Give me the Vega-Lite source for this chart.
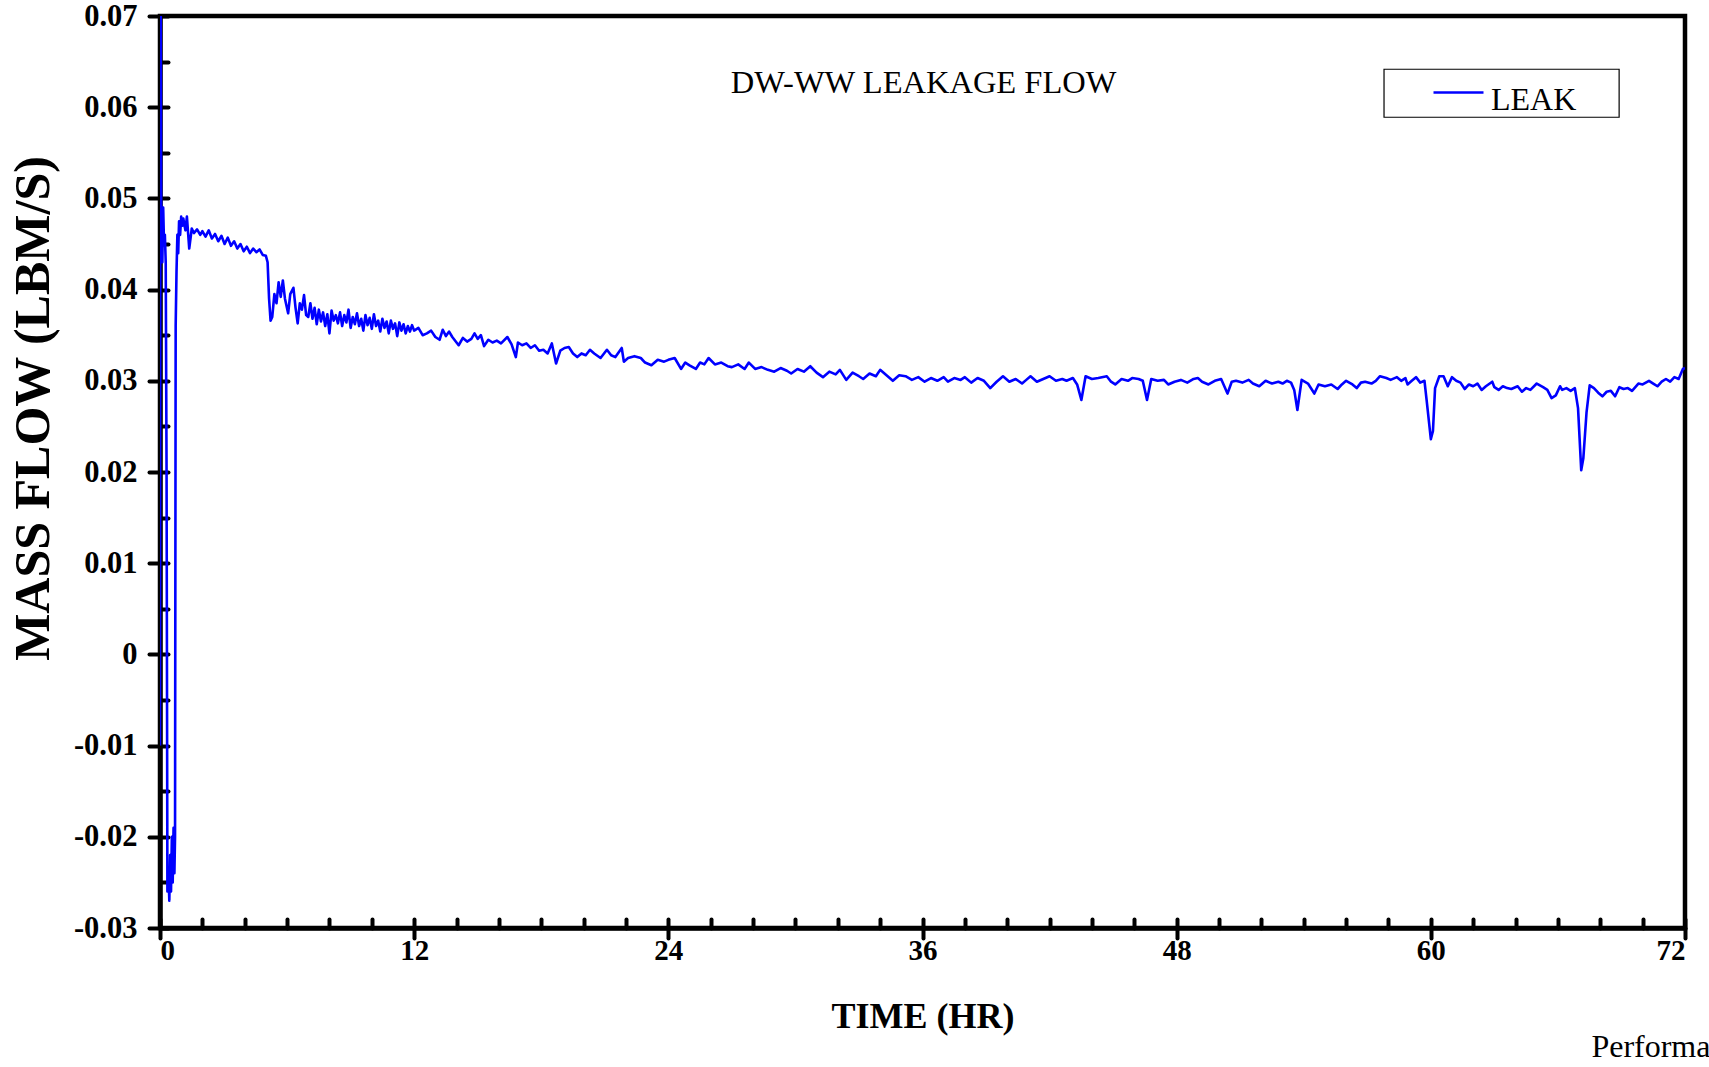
{
  "$schema": "https://vega.github.io/schema/vega-lite/v6.json",
  "width": 1525,
  "height": 912,
  "autosize": "none",
  "padding": {"left": 160, "top": 16, "right": 24, "bottom": 139},
  "background": "white",
  "config": {
    "view": {"stroke": "black", "strokeWidth": 4.5},
    "font": "Liberation Serif"
  },
  "data": {"values": [
    {"t":0,"v":-0.010},{"t":0.02,"v":0.085},{"t":0.06,"v":0.044},{"t":0.09,"v":0.047},{"t":0.11,"v":0.043},{"t":0.15,"v":0.049},{"t":0.19,"v":0.045},{"t":0.23,"v":0.046},{"t":0.27,"v":0.043},{"t":0.31,"v":0.020},{"t":0.35,"v":-0.026},{"t":0.40,"v":-0.024},{"t":0.44,"v":-0.027},{"t":0.48,"v":-0.022},{"t":0.52,"v":-0.026},{"t":0.56,"v":-0.020},{"t":0.60,"v":-0.025},{"t":0.64,"v":-0.019},{"t":0.68,"v":-0.024},{"t":0.71,"v":-0.020},{"t":0.74,"v":0.036},{"t":0.78,"v":0.042},{"t":0.82,"v":0.046},{"t":0.86,"v":0.044},{"t":0.90,"v":0.0475},{"t":0.95,"v":0.046},{"t":1.0,"v":0.048},{"t":1.05,"v":0.047},{"t":1.1,"v":0.0478},{"t":1.2,"v":0.0465},{"t":1.27,"v":0.048},{"t":1.38,"v":0.0445},{"t":1.5,"v":0.0467},
    {"t":1.6,"v":0.0462},{"t":1.75,"v":0.0466},{"t":1.9,"v":0.0460},{"t":2.0,"v":0.0464},{"t":2.15,"v":0.0458},{"t":2.3,"v":0.0465},{"t":2.45,"v":0.0456},{"t":2.6,"v":0.0461},{"t":2.75,"v":0.0453},{"t":2.9,"v":0.0459},{"t":3.05,"v":0.0450},{"t":3.2,"v":0.0457},{"t":3.35,"v":0.0448},{"t":3.5,"v":0.0453},{"t":3.65,"v":0.0445},{"t":3.8,"v":0.0450},{"t":3.95,"v":0.0442},{"t":4.1,"v":0.0447},{"t":4.25,"v":0.0440},{"t":4.4,"v":0.0445},{"t":4.55,"v":0.0441},{"t":4.7,"v":0.0444},{"t":4.85,"v":0.0438},{"t":5.0,"v":0.0437},{"t":5.08,"v":0.0430},{"t":5.15,"v":0.0390},{"t":5.22,"v":0.0366},{"t":5.3,"v":0.0370},{"t":5.4,"v":0.0395},{"t":5.5,"v":0.0385},{"t":5.6,"v":0.0408},{"t":5.7,"v":0.0392},{"t":5.8,"v":0.0410},{"t":5.9,"v":0.0390},{"t":6.05,"v":0.0374},{"t":6.15,"v":0.0395},{"t":6.3,"v":0.0402},{"t":6.4,"v":0.0380},{"t":6.5,"v":0.0363},{"t":6.6,"v":0.0385},{"t":6.7,"v":0.0378},{"t":6.8,"v":0.0394},{"t":6.9,"v":0.0372},{"t":7.0,"v":0.0370},{"t":7.1,"v":0.0385},
    {"t":7.2,"v":0.0368},{"t":7.3,"v":0.0380},{"t":7.4,"v":0.0362},{"t":7.5,"v":0.0378},{"t":7.6,"v":0.0365},{"t":7.7,"v":0.0375},{"t":7.8,"v":0.0360},{"t":7.9,"v":0.0373},{"t":8.0,"v":0.0352},{"t":8.1,"v":0.0377},{"t":8.2,"v":0.0366},{"t":8.3,"v":0.0372},{"t":8.4,"v":0.0363},{"t":8.5,"v":0.0375},{"t":8.6,"v":0.0360},{"t":8.7,"v":0.0372},{"t":8.8,"v":0.0364},{"t":8.9,"v":0.0378},{"t":9.0,"v":0.0358},{"t":9.1,"v":0.0370},{"t":9.2,"v":0.0362},{"t":9.3,"v":0.0374},{"t":9.4,"v":0.0360},{"t":9.5,"v":0.0368},{"t":9.6,"v":0.0355},{"t":9.7,"v":0.0372},{"t":9.8,"v":0.0361},{"t":9.9,"v":0.0369},{"t":10.0,"v":0.0357},{"t":10.1,"v":0.0373},{"t":10.2,"v":0.0360},{"t":10.3,"v":0.0366},{"t":10.4,"v":0.0354},{"t":10.5,"v":0.0368},{"t":10.6,"v":0.0358},{"t":10.7,"v":0.0365},{"t":10.8,"v":0.0352},{"t":10.9,"v":0.0366},{"t":11.0,"v":0.0357},{"t":11.1,"v":0.0363},{"t":11.2,"v":0.0349},{"t":11.3,"v":0.0364},{"t":11.4,"v":0.0355},{"t":11.5,"v":0.0362},{"t":11.6,"v":0.0352},{"t":11.7,"v":0.0360},{"t":11.8,"v":0.0354},{"t":11.9,"v":0.0361},{"t":12.0,"v":0.0355},{"t":12.2,"v":0.0358},{"t":12.4,"v":0.0350},{"t":12.6,"v":0.0352},{"t":12.8,"v":0.0355},{"t":13.0,"v":0.0348},{"t":13.2,"v":0.0345},{"t":13.35,"v":0.0356},{"t":13.5,"v":0.0349},{"t":13.65,"v":0.0354},{"t":13.8,"v":0.0348},{"t":14.1,"v":0.0339},{"t":14.3,"v":0.0347},{"t":14.5,"v":0.0343},{"t":14.7,"v":0.0346},{"t":14.85,"v":0.0352},{"t":15.0,"v":0.0346},{"t":15.15,"v":0.0350},{"t":15.3,"v":0.0338},{"t":15.5,"v":0.0345},{"t":15.7,"v":0.0342},{"t":15.9,"v":0.0344},{"t":16.1,"v":0.0341},{"t":16.4,"v":0.0348},{"t":16.6,"v":0.0340},{"t":16.8,"v":0.0326},{"t":16.9,"v":0.0342},{"t":17.1,"v":0.0339},{"t":17.3,"v":0.0341},{"t":17.5,"v":0.0336},{"t":17.7,"v":0.0339},{"t":17.9,"v":0.0333},{"t":18.1,"v":0.0334},{"t":18.3,"v":0.0330},{"t":18.5,"v":0.0341},{"t":18.6,"v":0.0330},{"t":18.7,"v":0.0319},{"t":18.9,"v":0.0333},{"t":19.1,"v":0.0336},{"t":19.3,"v":0.0337},{"t":19.5,"v":0.0330},{"t":19.7,"v":0.0326},{"t":19.9,"v":0.0330},{"t":20.1,"v":0.0328},{"t":20.3,"v":0.0334},{"t":20.5,"v":0.0330},{"t":20.8,"v":0.0325},{"t":21.1,"v":0.0334},{"t":21.3,"v":0.0328},{"t":21.5,"v":0.0326},{"t":21.8,"v":0.0336},{"t":21.9,"v":0.0321},{"t":22.1,"v":0.0325},{"t":22.4,"v":0.0327},{"t":22.7,"v":0.0325},{"t":22.9,"v":0.0320},{"t":23.2,"v":0.0317},{"t":23.5,"v":0.0323},{"t":23.8,"v":0.0321},{"t":24.0,"v":0.0323},{"t":24.3,"v":0.0325},{"t":24.6,"v":0.0313},{"t":24.8,"v":0.0320},{"t":25.0,"v":0.0317},{"t":25.3,"v":0.0313},{"t":25.5,"v":0.0320},{"t":25.7,"v":0.0318},{"t":25.9,"v":0.0325},{"t":26.2,"v":0.0318},{"t":26.5,"v":0.0320},{"t":26.8,"v":0.0316},{"t":27.0,"v":0.0315},{"t":27.3,"v":0.0318},{"t":27.6,"v":0.0313},{"t":27.8,"v":0.0320},{"t":28.1,"v":0.0313},{"t":28.4,"v":0.0315},{"t":28.7,"v":0.0312},{"t":29.0,"v":0.0310},{"t":29.3,"v":0.0314},{"t":29.6,"v":0.0311},{"t":29.8,"v":0.0308},{"t":30.1,"v":0.0313},{"t":30.4,"v":0.0310},{"t":30.7,"v":0.0316},{"t":31.0,"v":0.0309},{"t":31.3,"v":0.0304},{"t":31.6,"v":0.0310},{"t":31.9,"v":0.0307},{"t":32.1,"v":0.0312},{"t":32.4,"v":0.0301},{"t":32.7,"v":0.0309},{"t":33.0,"v":0.0305},{"t":33.2,"v":0.0302},{"t":33.5,"v":0.0308},{"t":33.8,"v":0.0305},{"t":34.0,"v":0.0312},{"t":34.3,"v":0.0306},{"t":34.6,"v":0.0300},{"t":34.9,"v":0.0306},{"t":35.2,"v":0.0305},{"t":35.5,"v":0.0301},{"t":35.8,"v":0.0304},{"t":36.1,"v":0.0299},{"t":36.4,"v":0.0303},{"t":36.7,"v":0.0300},{"t":37.0,"v":0.0304},{"t":37.2,"v":0.0299},{"t":37.5,"v":0.0303},{"t":37.8,"v":0.0301},{"t":38.0,"v":0.0304},{"t":38.3,"v":0.0298},{"t":38.6,"v":0.0303},{"t":38.9,"v":0.0300},{"t":39.2,"v":0.0292},{"t":39.5,"v":0.0299},{"t":39.8,"v":0.0305},{"t":40.1,"v":0.0299},{"t":40.4,"v":0.0302},{"t":40.7,"v":0.0297},{"t":40.9,"v":0.0301},{"t":41.1,"v":0.0305},{"t":41.4,"v":0.0299},{"t":41.7,"v":0.0302},{"t":42.0,"v":0.0305},{"t":42.3,"v":0.0300},{"t":42.6,"v":0.0302},{"t":42.8,"v":0.0300},{"t":43.1,"v":0.0303},{"t":43.3,"v":0.0296},{"t":43.5,"v":0.0279},{"t":43.7,"v":0.0305},{"t":44.0,"v":0.0302},{"t":44.3,"v":0.0303},{"t":44.7,"v":0.0305},{"t":44.9,"v":0.0299},{"t":45.1,"v":0.0296},{"t":45.4,"v":0.0302},{"t":45.7,"v":0.0300},{"t":45.9,"v":0.0303},{"t":46.2,"v":0.0302},{"t":46.4,"v":0.0300},{"t":46.6,"v":0.0279},{"t":46.8,"v":0.0302},{"t":47.1,"v":0.0300},{"t":47.4,"v":0.0301},{"t":47.6,"v":0.0296},{"t":47.9,"v":0.0299},{"t":48.2,"v":0.0301},{"t":48.5,"v":0.0298},{"t":48.8,"v":0.0302},{"t":49.0,"v":0.0303},{"t":49.2,"v":0.0299},{"t":49.5,"v":0.0296},{"t":49.8,"v":0.0300},{"t":50.1,"v":0.0302},{"t":50.4,"v":0.0286},{"t":50.6,"v":0.0299},{"t":50.8,"v":0.0300},{"t":51.1,"v":0.0298},{"t":51.4,"v":0.0301},{"t":51.6,"v":0.0297},{"t":51.9,"v":0.0294},{"t":52.2,"v":0.0300},{"t":52.5,"v":0.0297},{"t":52.8,"v":0.0299},{"t":53.0,"v":0.0297},{"t":53.2,"v":0.0300},{"t":53.4,"v":0.0298},{"t":53.55,"v":0.0290},{"t":53.7,"v":0.0268},{"t":53.9,"v":0.0301},{"t":54.2,"v":0.0297},{"t":54.5,"v":0.0286},{"t":54.7,"v":0.0296},{"t":55.0,"v":0.0294},{"t":55.3,"v":0.0296},{"t":55.6,"v":0.0291},{"t":55.8,"v":0.0296},{"t":56.0,"v":0.0300},{"t":56.3,"v":0.0296},{"t":56.5,"v":0.0292},{"t":56.7,"v":0.0298},{"t":56.9,"v":0.0299},{"t":57.2,"v":0.0297},{"t":57.4,"v":0.0300},{"t":57.6,"v":0.0305},{"t":57.9,"v":0.0303},{"t":58.1,"v":0.0301},{"t":58.4,"v":0.0304},{"t":58.6,"v":0.0300},{"t":58.8,"v":0.0303},{"t":58.9,"v":0.0296},{"t":59.1,"v":0.0300},{"t":59.3,"v":0.0304},{"t":59.5,"v":0.0298},{"t":59.7,"v":0.0300},{"t":59.8,"v":0.0279},{"t":60.0,"v":0.0236},{"t":60.1,"v":0.0245},{"t":60.2,"v":0.0292},{"t":60.4,"v":0.0305},{"t":60.6,"v":0.0305},{"t":60.8,"v":0.0294},{"t":61.0,"v":0.0304},{"t":61.2,"v":0.0300},{"t":61.4,"v":0.0298},{"t":61.6,"v":0.0291},{"t":61.8,"v":0.0296},{"t":62.0,"v":0.0294},{"t":62.2,"v":0.0297},{"t":62.4,"v":0.0290},{"t":62.6,"v":0.0294},{"t":62.9,"v":0.0299},{"t":63.0,"v":0.0293},{"t":63.2,"v":0.0290},{"t":63.4,"v":0.0294},{"t":63.6,"v":0.0292},{"t":63.8,"v":0.0291},{"t":64.1,"v":0.0294},{"t":64.3,"v":0.0288},{"t":64.5,"v":0.0292},{"t":64.7,"v":0.0290},{"t":65.0,"v":0.0297},{"t":65.3,"v":0.0293},{"t":65.5,"v":0.0290},{"t":65.7,"v":0.0281},{"t":65.9,"v":0.0284},{"t":66.1,"v":0.0294},{"t":66.2,"v":0.0290},{"t":66.4,"v":0.0292},{"t":66.6,"v":0.0289},{"t":66.8,"v":0.0292},{"t":66.95,"v":0.0270},{"t":67.1,"v":0.0202},{"t":67.2,"v":0.0215},{"t":67.35,"v":0.0265},{"t":67.5,"v":0.0295},{"t":67.7,"v":0.0292},{"t":67.9,"v":0.0287},{"t":68.1,"v":0.0283},{"t":68.3,"v":0.0288},{"t":68.5,"v":0.0289},{"t":68.7,"v":0.0283},{"t":68.9,"v":0.0293},{"t":69.1,"v":0.0291},{"t":69.3,"v":0.0292},{"t":69.5,"v":0.0289},{"t":69.8,"v":0.0297},{"t":70.0,"v":0.0296},{"t":70.3,"v":0.0300},{"t":70.5,"v":0.0297},{"t":70.7,"v":0.0294},{"t":70.9,"v":0.0299},{"t":71.1,"v":0.0302},{"t":71.3,"v":0.0299},{"t":71.5,"v":0.0304},{"t":71.7,"v":0.0302},{"t":71.9,"v":0.0313},{"t":72.0,"v":0.0314}
  ]},
  "layer": [
    {
      "mark": {"type": "line", "opacity": 0, "strokeWidth": 1},
      "encoding": {
        "x": {"field": "t", "type": "quantitative",
          "scale": {"domain": [0, 72], "nice": false, "zero": false},
          "axis": {"orient": "bottom", "values": [0,2,4,6,8,10,12,14,16,18,20,22,24,26,28,30,32,34,36,38,40,42,44,46,48,50,52,54,56,58,60,62,64,66,68,70,72],
            "labels": false, "domain": false, "grid": false, "title": null, "tickColor": "black", "tickWidth": 4, "tickSize": -9, "tickCap": "round"}},
        "y": {"field": "v", "type": "quantitative",
          "scale": {"domain": [-0.03, 0.07], "nice": false, "zero": false},
          "axis": {"orient": "left", "values": [-0.03,-0.025,-0.02,-0.015,-0.01,-0.005,0,0.005,0.01,0.015,0.02,0.025,0.03,0.035,0.04,0.045,0.05,0.055,0.06,0.065,0.07],
            "labels": false, "domain": false, "grid": false, "title": null, "tickColor": "black", "tickWidth": 4, "tickSize": -8, "tickCap": "round"}}
      }
    },
    {
      "data": {"values": [{}]},
      "mark": {"type": "rect", "fill": "white", "stroke": "black", "strokeWidth": 1.2},
      "encoding": {
        "x": {"datum": 57.79, "type": "quantitative", "scale": {"domain": [0, 72], "nice": false, "zero": false}, "axis": null},
        "x2": {"datum": 68.89},
        "y": {"datum": 0.06416, "type": "quantitative", "scale": {"domain": [-0.03, 0.07], "nice": false, "zero": false}, "axis": null},
        "y2": {"datum": 0.0589}
      }
    },
    {
      "mark": {"type": "line", "clip": true, "strokeWidth": 2.6, "strokeJoin": "round", "interpolate": "linear"},
      "encoding": {
        "x": {"field": "t", "type": "quantitative",
          "scale": {"domain": [0, 72], "nice": false, "zero": false},
          "axis": {"orient": "bottom", "values": [0,12,24,36,48,60,72], "format": "d",
            "domainColor": "black", "domainWidth": 4.5, "tickColor": "black", "tickWidth": 4, "tickSize": 10, "tickCap": "round",
            "labelFont": "Liberation Serif", "labelFontWeight": "bold", "labelFontSize": 29, "labelColor": "black", "labelPadding": -2,
            "grid": false, "title": "TIME (HR)", "titleFont": "Liberation Serif", "titleFontWeight": "bold", "titleFontSize": 36, "titleColor": "black",
            "titleX": 762.5, "titleY": 88, "titleBaseline": "middle", "titleAlign": "center"}},
        "y": {"field": "v", "type": "quantitative",
          "scale": {"domain": [-0.03, 0.07], "nice": false, "zero": false},
          "axis": {"orient": "left", "values": [-0.03,-0.02,-0.01,0,0.01,0.02,0.03,0.04,0.05,0.06,0.07],
            "labelExpr": "'' + round(datum.value*100)/100",
            "domainColor": "black", "domainWidth": 4.5, "tickColor": "black", "tickWidth": 4, "tickSize": 11, "tickCap": "round",
            "labelFont": "Liberation Serif", "labelFontWeight": "bold", "labelFontSize": 30.5, "labelColor": "black", "labelPadding": 12,
            "grid": false, "title": "MASS FLOW (LBM/S)", "titleFont": "Liberation Serif", "titleFontWeight": "bold", "titleFontSize": 50, "titleColor": "black",
            "titleAngle": 270, "titleX": -127, "titleY": 392, "titleBaseline": "middle", "titleAlign": "center"}},
        "color": {"datum": "LEAK", "type": "nominal",
          "scale": {"range": ["#0000ff"]},
          "legend": {"orient": "none", "legendX": 1272, "legendY": 50, "title": null,
            "symbolType": "stroke", "symbolSize": 2500, "symbolStrokeWidth": 2.5, "symbolOffset": 0,
            "labelFont": "Liberation Serif", "labelFontSize": 32, "labelColor": "black", "labelOffset": 6,
            "padding": 0,
            "encode": {"labels": {"update": {"dy": {"value": 7}}}}}}
      }
    },
    {
      "data": {"values": [{}]},
      "mark": {"type": "text", "font": "Liberation Serif", "fontWeight": "normal", "fontSize": 32.5, "align": "center", "baseline": "middle", "fill": "black", "text": "DW-WW LEAKAGE FLOW"},
      "encoding": {
        "x": {"datum": 36.05, "type": "quantitative", "scale": {"domain": [0, 72], "nice": false, "zero": false}, "axis": null},
        "y": {"datum": 0.0627, "type": "quantitative", "scale": {"domain": [-0.03, 0.07], "nice": false, "zero": false}, "axis": null}
      }
    },
    {
      "data": {"values": [{}]},
      "mark": {"type": "text", "font": "Liberation Serif", "fontWeight": "normal", "fontSize": 32, "align": "left", "baseline": "middle", "fill": "black", "text": "Performa", "clip": false},
      "encoding": {
        "x": {"datum": 67.58, "type": "quantitative", "scale": {"domain": [0, 72], "nice": false, "zero": false}, "axis": null},
        "y": {"datum": -0.0430, "type": "quantitative", "scale": {"domain": [-0.03, 0.07], "nice": false, "zero": false}, "axis": null}
      }
    }
  ],
  "resolve": {"axis": {"x": "independent", "y": "independent"}}
}
